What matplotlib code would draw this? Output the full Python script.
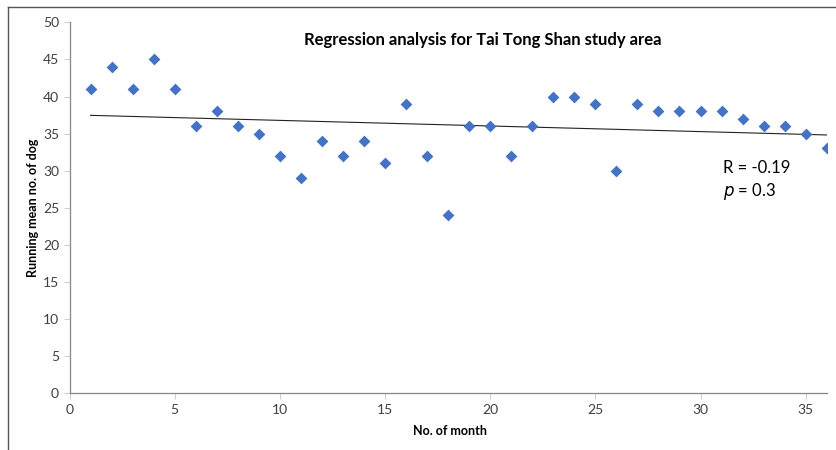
import numpy as np
import matplotlib.pyplot as plt
from matplotlib.lines import Line2D

# ---- Data ----
months = list(range(1, 37))
dogs = [41, 44, 41, 45, 41, 36, 38, 36, 35, 32, 29, 34, 32, 34, 31, 39, 32, 24,
        36, 36, 32, 36, 40, 40, 39, 30, 39, 38, 38, 38, 38, 37, 36, 36, 35, 33]
x_ticks = [0, 5, 10, 15, 20, 25, 30, 35]
y_ticks = [0, 5, 10, 15, 20, 25, 30, 35, 40, 45, 50]

plt.rcParams['font.family'] = ['Lato', 'DejaVu Sans']

W, H = 836, 450
fig = plt.figure(figsize=(W / 100, H / 100), dpi=100)
ax = fig.add_axes([69.5 / W, 1 - 393.3 / H, (826.7 - 69.5) / W, (393.3 - 22.3) / H])

# linear trendline
slope, intercept = np.polyfit(months, dogs, 1)
ax.plot([months[0], months[-1]],
        [slope * months[0] + intercept, slope * months[-1] + intercept],
        color="#222222", linewidth=0.8, zorder=2)
ax.scatter(months, dogs, marker="D", s=36, color="#4472C4", zorder=3, linewidths=0)

ax.set_xlim(0, 36)
ax.set_ylim(0, 50)
ax.set_xticks(x_ticks)
ax.set_yticks(y_ticks)
for s in ["top", "right"]:
    ax.spines[s].set_visible(False)
for s in ["left", "bottom"]:
    ax.spines[s].set_color("#868686")
    ax.spines[s].set_linewidth(0.9)
ax.tick_params(colors="#d0d0d0", labelcolor="#404040", labelsize=10, length=4, width=0.8)

fig.text(483 / W, 1 - 40 / H, "Regression analysis for Tai Tong Shan study area",
         ha="center", va="center", fontsize=12, fontweight="bold", color="black")
fig.text(450 / W, 1 - 431 / H, "No. of month", ha="center", va="center",
         fontsize=9, fontweight="bold", color="black")
fig.text(33 / W, 1 - 208 / H, "Running mean no. of dog", ha="center", va="center",
         rotation=90, fontsize=9, fontweight="bold", color="black")
fig.text(723 / W, 1 - 168 / H, "R = -0.19", ha="left", va="center", fontsize=12, color="black")
fig.text(723 / W, 1 - 191 / H, r"$\it{p}$ = 0.3", ha="left", va="center", fontsize=12, color="black")

# outer frame (left and top edges visible)
fig.add_artist(Line2D([8 / W, 8 / W], [0, 1 - 7 / H], transform=fig.transFigure, color="#555555", linewidth=1))
fig.add_artist(Line2D([8 / W, 1], [1 - 7 / H, 1 - 7 / H], transform=fig.transFigure, color="#555555", linewidth=1))

fig.savefig("out.png", dpi=100)
